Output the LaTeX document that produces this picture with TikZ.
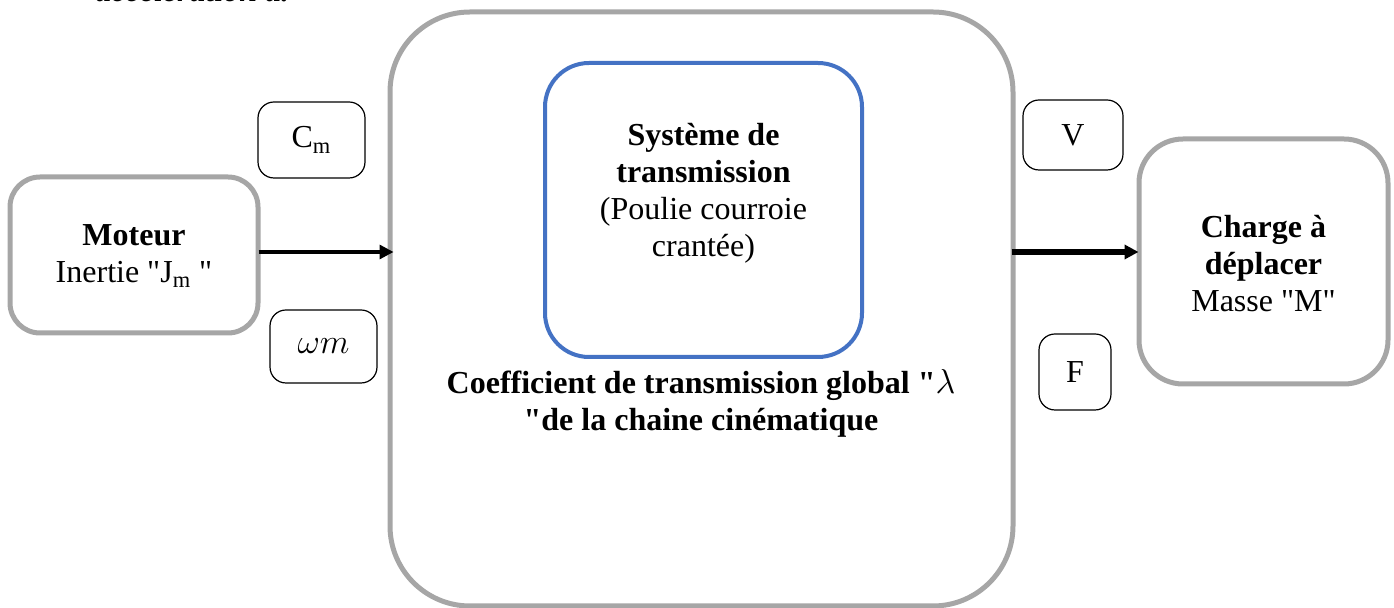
\documentclass[tikz,border=0pt]{standalone}
\usepackage{fontspec}
\setmainfont{Liberation Serif}[Ligatures=TeXOff]
\usetikzlibrary{arrows.meta}
\definecolor{boxgray}{HTML}{A6A6A6}
\definecolor{boxblue}{HTML}{4472C4}
\begin{document}
\begin{tikzpicture}[x=0.5pt,y=-0.5pt,
  txt/.style={font=\fontsize{16}{18.5}\selectfont, align=center, inner sep=0pt},
  graybox/.style={draw=boxgray, line width=2.5pt, fill=white, inner sep=0pt},
  bluebox/.style={draw=boxblue, line width=2pt, fill=white, inner sep=0pt, rounded corners=22pt},
  varbox/.style={draw=black, line width=0.6pt, rounded corners=8pt, inner sep=0pt, font=\fontsize{16}{18}\selectfont},
  flow/.style={draw=black, -{Triangle[length=7pt,width=7pt]}}]
\useasboundingbox (0,0) rectangle (1394,608);
% cut-off text at top
\node[anchor=base west, inner sep=0pt, font=\fontsize{16}{18}\selectfont\bfseries\itshape] (top) at (95,2) {accélération a.};
% boxes
\node[graybox, rounded corners=40pt, minimum width=311.5pt, minimum height=297pt] (big) at (701.5,309) {};
\node[bluebox, minimum width=158.5pt, minimum height=147pt] (sys) at (703.5,210) {};
\node[graybox, rounded corners=15pt, minimum width=124pt, minimum height=78pt] (mot) at (134,255) {};
\node[graybox, rounded corners=22pt, minimum width=124.5pt, minimum height=122.5pt] (chg) at (1263.5,261.5) {};
\node[varbox, minimum width=53.5pt, minimum height=38pt] (cm) at (311.5,140) {C\textsubscript{m}};
\node[varbox, minimum width=53.5pt, minimum height=36.5pt] (wm) at (323.5,346.5) {$\omega m$};
\node[varbox, minimum width=50pt, minimum height=35pt] (v) at (1073,135) {V};
\node[varbox, minimum width=36pt, minimum height=38pt] (f) at (1075,372) {F};
% texts
\node[txt] (motT) at (134,256) {\textbf{Moteur}\\Inertie "J\textsubscript{m} "};
\node[txt] (sysT) at (703.5,193) {\textbf{Système de}\\\textbf{transmission}\\(Poulie courroie\\crantée)};
\node[txt, font=\fontsize{16}{18.5}\selectfont\bfseries] (coefT) at (701,403) {Coefficient de transmission global "$\lambda$\\"de la chaine cinématique};
\node[txt] (chgT) at (1263.5,264) {\textbf{Charge à}\\\textbf{déplacer}\\Masse "M"};
% connectors
\draw[flow, line width=1.6pt, shorten >=-3pt, shorten <=-1pt] (mot.east |- 0,252) -- (big.west |- 0,252);
\draw[flow, line width=2.6pt, shorten <=-2pt, shorten >=-1pt] (big.east |- 0,252) -- (chg.west |- 0,252);
\end{tikzpicture}
\end{document}
